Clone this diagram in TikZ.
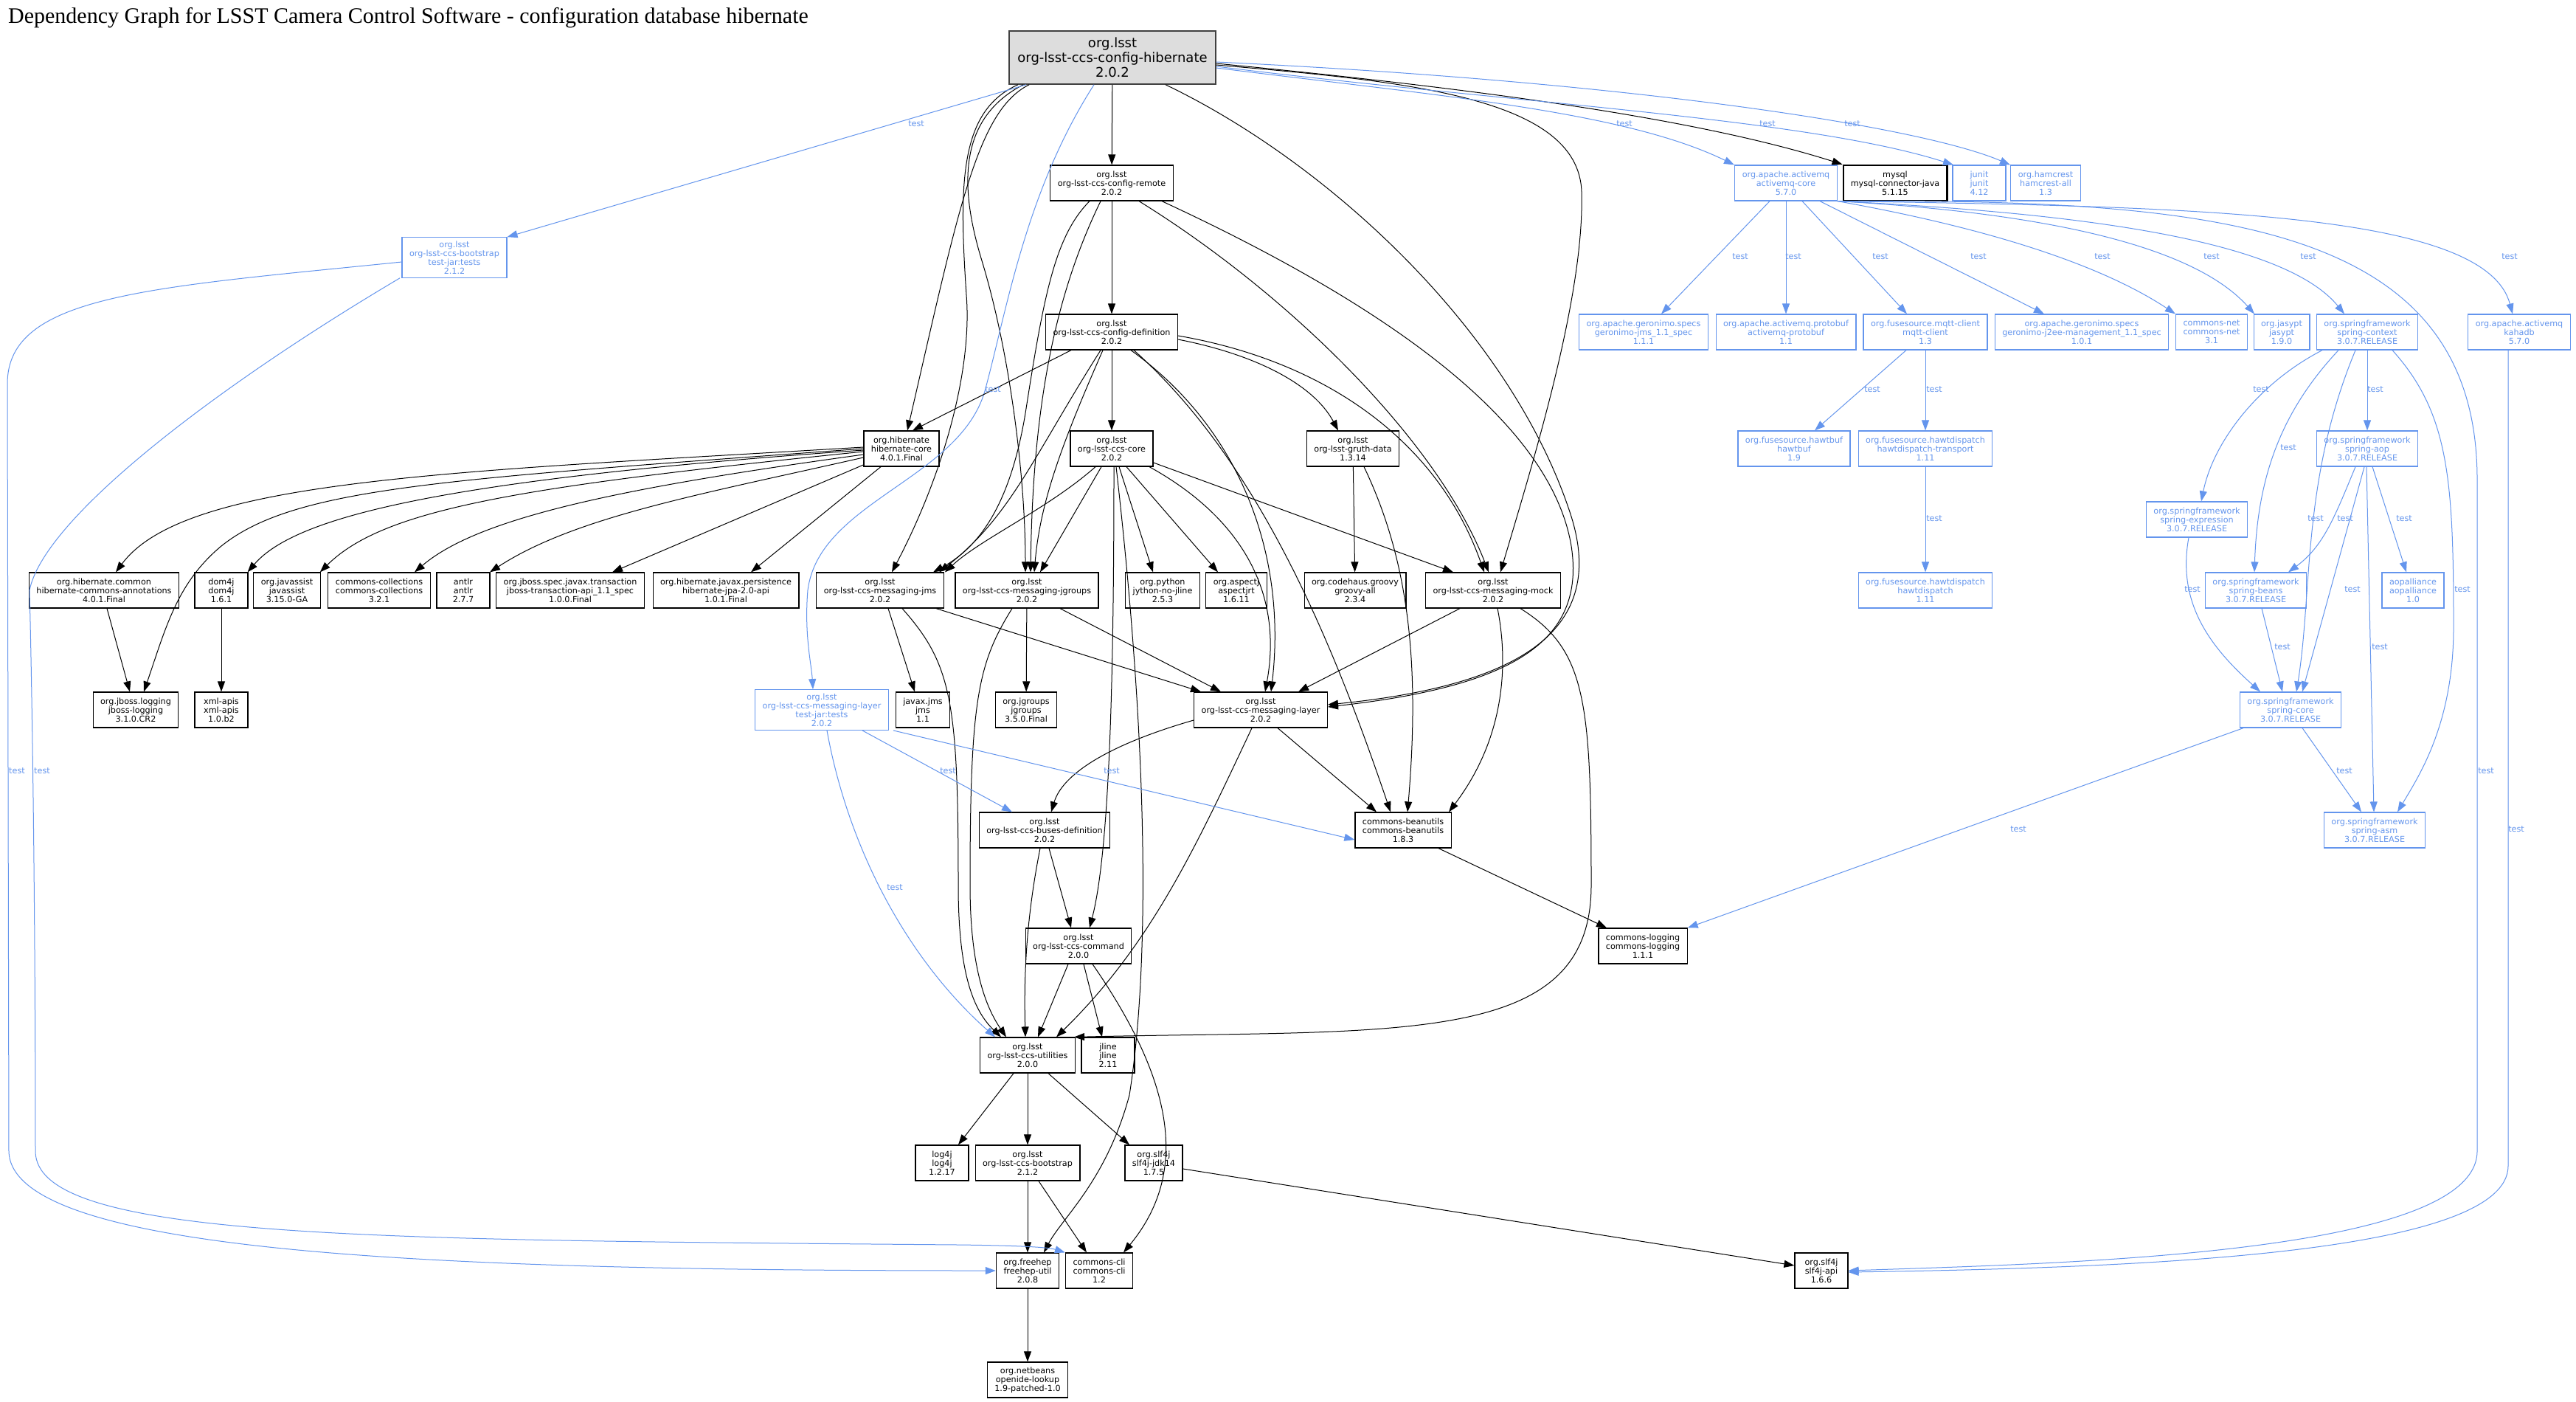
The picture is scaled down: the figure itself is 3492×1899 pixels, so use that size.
\documentclass[tikz,border=0pt]{standalone}
\usepackage{fontspec}
\setmainfont{DejaVu Sans}
\newfontfamily\graphtitlefont{Liberation Serif}
\usetikzlibrary{arrows.meta}
\definecolor{cblue}{RGB}{100,149,237}
\definecolor{rootgray}{RGB}{221,221,221}
\definecolor{rootedge}{RGB}{64,64,64}
\newcommand{\pkgfont}{\fontsize{11.2}{12}\selectfont}
\newcommand{\toppkgfont}{\fontsize{18}{20}\selectfont}
\tikzset{
	pkg/.style={draw=black, line width=1.2pt, font=\pkgfont, align=center, inner xsep=10pt, inner ysep=5pt, minimum height=48pt, minimum width=72pt},
	testpkg/.style={pkg, draw=cblue, text=cblue},
	toppkg/.style={pkg, fill=rootgray, draw=rootedge, line width=1.6pt, font=\toppkgfont, minimum width=280pt, minimum height=72pt},
	dep/.style={draw=black, line width=1pt, -{Triangle[length=14pt,width=10pt]}},
	testdep/.style={dep, draw=cblue},
	lbl/.style={font=\pkgfont, text=cblue, inner sep=0pt}
}
\begin{document}
\begin{tikzpicture}[x=1pt, y=-1pt]
			%%%%% START %%%%%
			\path[use as bounding box, fill=white] (0,0) rectangle (3492,1899);
			\node[anchor=base west, inner sep=0pt, font=\graphtitlefont\fontsize{30}{36}\selectfont] (title) at (11,31) {Dependency Graph for LSST Camera Control Software - configuration database hibernate};
			
			% top rows
			\node[toppkg] (root) at (1508,78) {org.lsst\\org-lsst-ccs-config-hibernate\\2.0.2};
			\node[testpkg] (bootTJ) at (616,349) {org.lsst\\org-lsst-ccs-bootstrap\\test-jar:tests\\2.1.2};
			\node[pkg] (cremote) at (1507,248) {org.lsst\\org-lsst-ccs-config-remote\\2.0.2};
			\node[testpkg] (amqcore) at (2421,248) {org.apache.activemq\\activemq-core\\5.7.0};
			\node[pkg, line width=2.4pt] (mysql) at (2569,248) {mysql\\mysql-connector-java\\5.1.15};
			\node[testpkg] (junit) at (2683,248) {junit\\junit\\4.12};
			\node[testpkg] (hamcrest) at (2773,248) {org.hamcrest\\hamcrest-all\\1.3};
			
			\node[pkg] (cdef) at (1507,450) {org.lsst\\org-lsst-ccs-config-definition\\2.0.2};
			\node[testpkg] (gjms) at (2228,450) {org.apache.geronimo.specs\\geronimo-jms\_1.1\_spec\\1.1.1};
			\node[testpkg] (protobuf) at (2421,450) {org.apache.activemq.protobuf\\activemq-protobuf\\1.1};
			\node[testpkg] (mqtt) at (2610,450) {org.fusesource.mqtt-client\\mqtt-client\\1.3};
			\node[testpkg] (j2ee) at (2822,450) {org.apache.geronimo.specs\\geronimo-j2ee-management\_1.1\_spec\\1.0.1};
			\node[testpkg] (cnet) at (2998,450) {commons-net\\commons-net\\3.1};
			\node[testpkg] (jasypt) at (3093,450) {org.jasypt\\jasypt\\1.9.0};
			\node[testpkg] (sctx) at (3209,450) {org.springframework\\spring-context\\3.0.7.RELEASE};
			\node[testpkg] (kahadb) at (3415,450) {org.apache.activemq\\kahadb\\5.7.0};
			
			\node[pkg] (hibcore) at (1222,608) {org.hibernate\\hibernate-core\\4.0.1.Final};
			\node[pkg] (ccore) at (1507,608) {org.lsst\\org-lsst-ccs-core\\2.0.2};
			\node[pkg] (gruth) at (1834,608) {org.lsst\\org-lsst-gruth-data\\1.3.14};
			\node[testpkg] (hawtbuf) at (2432,608) {org.fusesource.hawtbuf\\hawtbuf\\1.9};
			\node[testpkg] (hawttr) at (2610,608) {org.fusesource.hawtdispatch\\hawtdispatch-transport\\1.11};
			\node[testpkg] (saop) at (3209,608) {org.springframework\\spring-aop\\3.0.7.RELEASE};
			\node[testpkg] (sexpr) at (2978,704) {org.springframework\\spring-expression\\3.0.7.RELEASE};
			
			% middle rows
			\node[pkg] (hca) at (141,800) {org.hibernate.common\\hibernate-commons-annotations\\4.0.1.Final};
			\node[pkg] (dom4j) at (300,800) {dom4j\\dom4j\\1.6.1};
			\node[pkg] (javassist) at (389,800) {org.javassist\\javassist\\3.15.0-GA};
			\node[pkg] (colls) at (514,800) {commons-collections\\commons-collections\\3.2.1};
			\node[pkg] (antlr) at (628,800) {antlr\\antlr\\2.7.7};
			\node[pkg] (jbosstx) at (773,800) {org.jboss.spec.javax.transaction\\jboss-transaction-api\_1.1\_spec\\1.0.0.Final};
			\node[pkg] (jpa) at (984,800) {org.hibernate.javax.persistence\\hibernate-jpa-2.0-api\\1.0.1.Final};
			\node[pkg] (jms) at (1193,800) {org.lsst\\org-lsst-ccs-messaging-jms\\2.0.2};
			\node[pkg] (jgroups) at (1392,800) {org.lsst\\org-lsst-ccs-messaging-jgroups\\2.0.2};
			\node[pkg] (jython) at (1576,800) {org.python\\jython-no-jline\\2.5.3};
			\node[pkg] (aspectj) at (1676,800) {org.aspectj\\aspectjrt\\1.6.11};
			\node[pkg] (groovy) at (1837,800) {org.codehaus.groovy\\groovy-all\\2.3.4};
			\node[pkg] (mock) at (2024,800) {org.lsst\\org-lsst-ccs-messaging-mock\\2.0.2};
			\node[testpkg] (hawtd) at (2610,800) {org.fusesource.hawtdispatch\\hawtdispatch\\1.11};
			\node[testpkg] (sbeans) at (3058,800) {org.springframework\\spring-beans\\3.0.7.RELEASE};
			\node[testpkg] (aopall) at (3271,800) {aopalliance\\aopalliance\\1.0};
			
			\node[pkg] (jbosslog) at (184,962) {org.jboss.logging\\jboss-logging\\3.1.0.CR2};
			\node[pkg] (xmlapis) at (300,962) {xml-apis\\xml-apis\\1.0.b2};
			\node[testpkg] (layerTJ) at (1114,962) {org.lsst\\org-lsst-ccs-messaging-layer\\test-jar:tests\\2.0.2};
			\node[pkg] (javaxjms) at (1251,962) {javax.jms\\jms\\1.1};
			\node[pkg] (orgjgroups) at (1391,962) {org.jgroups\\jgroups\\3.5.0.Final};
			\node[pkg] (layer) at (1709,962) {org.lsst\\org-lsst-ccs-messaging-layer\\2.0.2};
			\node[testpkg] (score) at (3105,962) {org.springframework\\spring-core\\3.0.7.RELEASE};
			
			\node[pkg] (buses) at (1416,1125) {org.lsst\\org-lsst-ccs-buses-definition\\2.0.2};
			\node[pkg] (beanutils) at (1902,1125) {commons-beanutils\\commons-beanutils\\1.8.3};
			\node[testpkg] (sasm) at (3219,1125) {org.springframework\\spring-asm\\3.0.7.RELEASE};
			
			% bottom rows
			\node[pkg] (command) at (1462,1282) {org.lsst\\org-lsst-ccs-command\\2.0.0};
			\node[pkg] (clogging) at (2227,1282) {commons-logging\\commons-logging\\1.1.1};
			\node[pkg] (utilities) at (1393,1430) {org.lsst\\org-lsst-ccs-utilities\\2.0.0};
			\node[pkg] (jline) at (1502,1430) {jline\\jline\\2.11};
			\node[pkg] (log4j) at (1277,1576) {log4j\\log4j\\1.2.17};
			\node[pkg] (bootstrap) at (1393,1576) {org.lsst\\org-lsst-ccs-bootstrap\\2.1.2};
			\node[pkg] (slf4jjdk) at (1564,1576) {org.slf4j\\slf4j-jdk14\\1.7.5};
			\node[pkg] (freehep) at (1393,1722) {org.freehep\\freehep-util\\2.0.8};
			\node[pkg] (cli) at (1490,1722) {commons-cli\\commons-cli\\1.2};
			\node[pkg] (slf4japi) at (2469,1722) {org.slf4j\\slf4j-api\\1.6.6};
			\node[pkg] (openide) at (1393,1870) {org.netbeans\\openide-lookup\\1.9-patched-1.0};
			
			% root
			\draw[dep] (root) -- (cremote);
			\draw[dep] ([xshift=-113pt]root.south) .. controls (1325,150) and (1300,280) .. ([xshift=8pt]hibcore.north);
			\draw[dep] ([xshift=-128pt]root.south) .. controls (1300,150) and (1300,250) .. (1310,400) .. controls (1318,500) and (1280,640) .. ([xshift=16pt]jms.north);
			\draw[dep] ([xshift=-121pt]root.south) .. controls (1300,160) and (1300,250) .. (1330,350) .. controls (1370,480) and (1390,650) .. ([xshift=-2pt]jgroups.north);
			\draw[dep] ([xshift=72pt]root.south) .. controls (1800,220) and (2050,450) .. (2130,700) .. controls (2180,860) and (2050,930) .. ([yshift=7pt]layer.east);
			\draw[dep] ([yshift=-10pt]root.east) .. controls (1900,110) and (2140,130) .. (2144,260) .. controls (2148,400) and (2080,620) .. ([xshift=10pt]mock.north);
			\draw[dep] ([yshift=-8pt]root.east) .. controls (2000,120) and (2300,160) .. (mysql.north west);
			\draw[testdep] ([yshift=-14pt]root.east) .. controls (1950,130) and (2200,150) .. ([xshift=-70pt]amqcore.north);
			\draw[testdep] ([yshift=-12pt]root.east) .. controls (2050,140) and (2450,160) .. ([xshift=-35pt]junit.north);
			\draw[testdep] ([yshift=-6pt]root.east) .. controls (2200,110) and (2600,170) .. ([xshift=-48pt]hamcrest.north);
			\draw[testdep] ([xshift=-117pt]root.south) -- (bootTJ.north east);
			\draw[testdep] ([xshift=-25pt]root.south) .. controls (1390,260) and (1365,420) .. (1335,530) .. controls (1300,650) and (1110,680) .. (1095,800) .. controls (1090,860) and (1100,900) .. ([xshift=-12pt]layerTJ.north);
			
			% config remote and definition
			\draw[dep] (cremote) -- (cdef);
			\draw[dep] ([xshift=-30pt]cremote.south) .. controls (1430,320) and (1415,400) .. (1390,560) .. controls (1370,680) and (1330,740) .. ([xshift=72pt]jms.north);
			\draw[dep] ([xshift=-15pt]cremote.south) .. controls (1430,400) and (1400,550) .. ([xshift=5pt]jgroups.north);
			\draw[dep] ([xshift=68pt]cremote.south) .. controls (1850,400) and (2100,560) .. (2130,740) .. controls (2150,870) and (2050,930) .. ([yshift=4pt]layer.east);
			\draw[dep] ([xshift=37pt]cremote.south) .. controls (1750,400) and (1950,600) .. ([xshift=-6pt]mock.north);
			\draw[dep] ([xshift=-55pt]cdef.south) -- ([xshift=15pt]hibcore.north);
			\draw[dep] (cdef) -- (ccore);
			\draw[dep] ([yshift=-10pt]cdef.east) .. controls (1700,480) and (1780,520) .. ([xshift=-20pt]gruth.north);
			\draw[dep] ([yshift=-5pt]cdef.east) .. controls (1800,490) and (1950,600) .. ([xshift=-12pt]mock.north);
			\draw[dep] ([xshift=-15pt]cdef.south) .. controls (1400,620) and (1370,700) .. ([xshift=80pt]jms.north);
			\draw[dep] ([xshift=-12pt]cdef.south) .. controls (1440,600) and (1410,680) .. ([xshift=10pt]jgroups.north);
			\draw[dep] ([xshift=26pt]cdef.south) .. controls (1680,580) and (1745,750) .. ([xshift=14pt]layer.north);
			\draw[dep] ([xshift=30pt]cdef.south) .. controls (1700,620) and (1800,850) .. ([xshift=-17pt]beanutils.north);
			
			% core
			\draw[dep] ([xshift=-22pt]ccore.south) .. controls (1420,690) and (1330,730) .. ([xshift=88pt]jms.north);
			\draw[dep] ([xshift=-14pt]ccore.south) -- ([xshift=18pt]jgroups.north);
			\draw[dep] ([xshift=10pt]ccore.south) -- ([xshift=-13pt]jython.north);
			\draw[dep] ([xshift=20pt]ccore.south) -- ([xshift=-25pt]aspectj.north);
			\draw[dep] ([xshift=51pt]ccore.south) .. controls (1680,700) and (1740,800) .. ([xshift=6pt]layer.north);
			\draw[dep] ([yshift=-19pt]ccore.east) -- ([xshift=-54pt]mock.north);
			\draw[dep] ([xshift=3pt]ccore.south) .. controls (1510,900) and (1505,1150) .. ([xshift=15pt]command.north);
			\draw[dep] ([xshift=6pt]ccore.south) .. controls (1555,1000) and (1560,1300) .. (1531,1484) .. controls (1500,1600) and (1440,1650) .. ([xshift=22pt]freehep.north);
			\draw[dep] (gruth) -- (groovy);
			\draw[dep] ([xshift=15pt]gruth.south) .. controls (1910,760) and (1925,900) .. ([xshift=6pt]beanutils.north);
			
			% hibernate
			\draw[dep] ([yshift=2pt]hibcore.west) .. controls (600,640) and (250,650) .. ([xshift=16pt]hca.north);
			\draw[dep] (hibcore.west) .. controls (600,650) and (400,660) .. (300,740) .. controls (240,790) and (225,850) .. ([xshift=11pt]jbosslog.north);
			\draw[dep] ([yshift=-2pt]hibcore.west) .. controls (600,650) and (400,700) .. ([xshift=-1pt]dom4j.north east);
			\draw[dep] ([yshift=-4pt]hibcore.west) .. controls (700,660) and (520,690) .. ([xshift=-1pt]javassist.north east);
			\draw[dep] ([yshift=-8pt]hibcore.west) .. controls (850,660) and (650,700) .. ([xshift=48pt]colls.north);
			\draw[dep] ([yshift=-12pt]hibcore.west) .. controls (950,670) and (780,700) .. ([xshift=36pt]antlr.north);
			\draw[dep] ([yshift=-22pt]hibcore.west) -- ([xshift=57pt]jbosstx.north);
			\draw[dep] ([xshift=-28pt]hibcore.south) -- ([xshift=34pt]jpa.north);
			\draw[dep] ([xshift=4pt]hca.south) -- ([xshift=-8pt]jbosslog.north);
			\draw[dep] (dom4j) -- (xmlapis);
			
			% messaging
			\draw[dep] ([xshift=11pt]jms.south) -- ([xshift=-11pt]javaxjms.north);
			\draw[dep] ([xshift=76pt]jms.south) -- ([xshift=-81pt]layer.north);
			\draw[dep] ([xshift=30pt]jms.south) .. controls (1290,900) and (1299,950) .. (1299,1200) .. controls (1299,1320) and (1320,1370) .. ([xshift=-36pt]utilities.north);
			\draw[dep] (jgroups) -- (orgjgroups);
			\draw[dep] ([xshift=45pt]jgroups.south) -- ([xshift=-54pt]layer.north);
			\draw[dep] ([xshift=-20pt]jgroups.south) .. controls (1325,900) and (1315,950) .. (1315,1200) .. controls (1315,1320) and (1340,1370) .. ([xshift=-29pt]utilities.north);
			\draw[dep] ([xshift=-45pt]mock.south) -- ([xshift=51pt]layer.north);
			\draw[dep] ([xshift=6pt]mock.south) .. controls (2045,900) and (2040,1000) .. ([xshift=62pt]beanutils.north);
			\draw[dep] ([xshift=37pt]mock.south) .. controls (2150,880) and (2157,950) .. (2157,1200) .. controls (2157,1420) and (1900,1395) .. ([xshift=-2pt]utilities.north east);
			\draw[dep] ([yshift=-14pt]layer.west) .. controls (1500,1010) and (1440,1050) .. ([xshift=9pt]buses.north);
			\draw[dep] ([xshift=23pt]layer.south) -- ([xshift=-36pt]beanutils.north);
			\draw[dep] ([xshift=-12pt]layer.south) .. controls (1620,1150) and (1560,1280) .. ([xshift=39pt]utilities.north);
			\draw[testdep] ([xshift=55pt]layerTJ.south) -- ([xshift=-44pt]buses.north);
			\draw[testdep] ([xshift=97pt]layerTJ.south) -- ([yshift=-13pt]beanutils.west);
			\draw[testdep] ([xshift=7pt]layerTJ.south) .. controls (1150,1150) and (1230,1300) .. ([xshift=-44pt]utilities.north);
			
			% lower part
			\draw[dep] ([xshift=6pt]buses.south) -- ([xshift=-10pt]command.north);
			\draw[dep] ([xshift=-6pt]buses.south) .. controls (1390,1250) and (1388,1330) .. ([xshift=-3pt]utilities.north);
			\draw[dep] ([xshift=48pt]beanutils.south) -- ([xshift=-49pt]clogging.north);
			\draw[dep] ([xshift=-14pt]command.south) -- ([xshift=14pt]utilities.north);
			\draw[dep] ([xshift=7pt]command.south) -- ([xshift=-8pt]jline.north);
			\draw[dep] ([xshift=19pt]command.south) .. controls (1580,1450) and (1620,1580) .. ([xshift=33pt]cli.north);
			\draw[dep] ([xshift=-19pt]utilities.south) -- ([xshift=22pt]log4j.north);
			\draw[dep] (utilities) -- (bootstrap);
			\draw[dep] ([xshift=28pt]utilities.south) -- ([xshift=-33pt]slf4jjdk.north);
			\draw[dep] (bootstrap) -- (freehep);
			\draw[dep] ([xshift=15pt]bootstrap.south) -- ([xshift=-17pt]cli.north);
			\draw[dep] ([yshift=-8pt]slf4jjdk.east) -- ([yshift=7pt]slf4japi.west);
			\draw[dep] (freehep) -- (openide);
			\draw[testdep] ([yshift=-6pt]bootTJ.west) .. controls (200,390) and (10,400) .. (10,520) -- (12,1560) .. controls (14,1700) and (600,1722) .. (freehep.west);
			\draw[testdep] ([xshift=-74pt]bootTJ.south) .. controls (300,520) and (60,700) .. (40,800) .. controls (45,1000) and (48,1300) .. (48,1560) .. controls (48,1680) and (500,1680) .. (1300,1687) .. controls (1380,1688) and (1420,1690) .. (cli.north west);
			
			% activemq
			\draw[testdep] ([xshift=-22pt]amqcore.south) -- ([xshift=24pt]gjms.north);
			\draw[testdep] (amqcore) -- (protobuf);
			\draw[testdep] ([xshift=22pt]amqcore.south) -- ([xshift=-25pt]mqtt.north);
			\draw[testdep] ([xshift=46pt]amqcore.south) -- ([xshift=-51pt]j2ee.north);
			\draw[testdep] (amqcore.south east) .. controls (2700,310) and (2850,360) .. (cnet.north west);
			\draw[testdep] (amqcore.south east) .. controls (2800,290) and (2980,340) .. ([xshift=-37pt]jasypt.north);
			\draw[testdep] (amqcore.south east) .. controls (2850,290) and (3100,330) .. ([xshift=-31pt]sctx.north);
			\draw[testdep] (amqcore.south east) .. controls (3000,280) and (3370,290) .. ([xshift=-9pt]kahadb.north);
			\draw[testdep] (amqcore.south east) .. controls (3000,270) and (3358,300) .. (3358,650) -- (3358,1560) .. controls (3358,1700) and (2800,1712) .. (slf4japi.east);
			\draw[testdep] ([xshift=-15pt]kahadb.south) -- (3400,1580) .. controls (3400,1700) and (2900,1718) .. ([yshift=-2pt]slf4japi.east);
			\draw[testdep] ([xshift=-26pt]mqtt.south) -- ([xshift=28pt]hawtbuf.north);
			\draw[testdep] (mqtt) -- (hawttr);
			\draw[testdep] (hawttr) -- (hawtd);
			
			% spring
			\draw[testdep] ([xshift=-61pt]sctx.south) .. controls (3060,520) and (3000,600) .. ([xshift=6pt]sexpr.north);
			\draw[testdep] ([xshift=-39pt]sctx.south) .. controls (3090,560) and (3060,650) .. ([xshift=-2pt]sbeans.north);
			\draw[testdep] ([xshift=-16pt]sctx.south) .. controls (3120,650) and (3135,800) .. ([xshift=8pt]score.north);
			\draw[testdep] (sctx) -- (saop);
			\draw[testdep] ([xshift=34pt]sctx.south) .. controls (3320,560) and (3326,650) .. (3326,850) .. controls (3326,980) and (3280,1050) .. ([xshift=31pt]sasm.north);
			\draw[testdep] ([xshift=-16pt]saop.south) .. controls (3165,700) and (3150,740) .. ([xshift=44pt]sbeans.north);
			\draw[testdep] ([xshift=-4pt]saop.south) -- ([xshift=16pt]score.north);
			\draw[testdep] ([xshift=7pt]saop.south) -- ([xshift=-9pt]aopall.north);
			\draw[testdep] ([xshift=-1pt]saop.south) -- ([xshift=-1pt]sasm.north);
			\draw[testdep] ([xshift=-11pt]sexpr.south) .. controls (2950,820) and (3000,880) .. ([xshift=-41pt]score.north);
			\draw[testdep] ([xshift=8pt]sbeans.south) -- ([xshift=-11pt]score.north);
			\draw[testdep] ([xshift=16pt]score.south) -- ([xshift=-18pt]sasm.north);
			\draw[testdep] ([xshift=-64pt]score.south) -- (clogging.north east);
			
			% edge labels
			\foreach \x/\y [count=\i] in {1242/168, 1346/528, 2202/168, 2396/168, 2511/168, 23/1045, 57/1045, 1285/1045, 1507/1045, 1213/1203, 2359/348, 2431/348, 2549/348, 2682/348, 2850/348, 2998/348, 3129/348, 3402/348, 3370/1045, 3411/1124, 2538/528, 2622/528, 2622/703, 3065/528, 3102/607, 3139/703, 3220/528, 3338/799, 3179/703, 3189/799, 3259/703, 3226/877, 2972/799, 3094/877, 3178/1045, 2736/1124}
				\node[lbl] (test\i) at (\x,\y) {test};
			%%%%% END %%%%%
\end{tikzpicture}
\end{document}
